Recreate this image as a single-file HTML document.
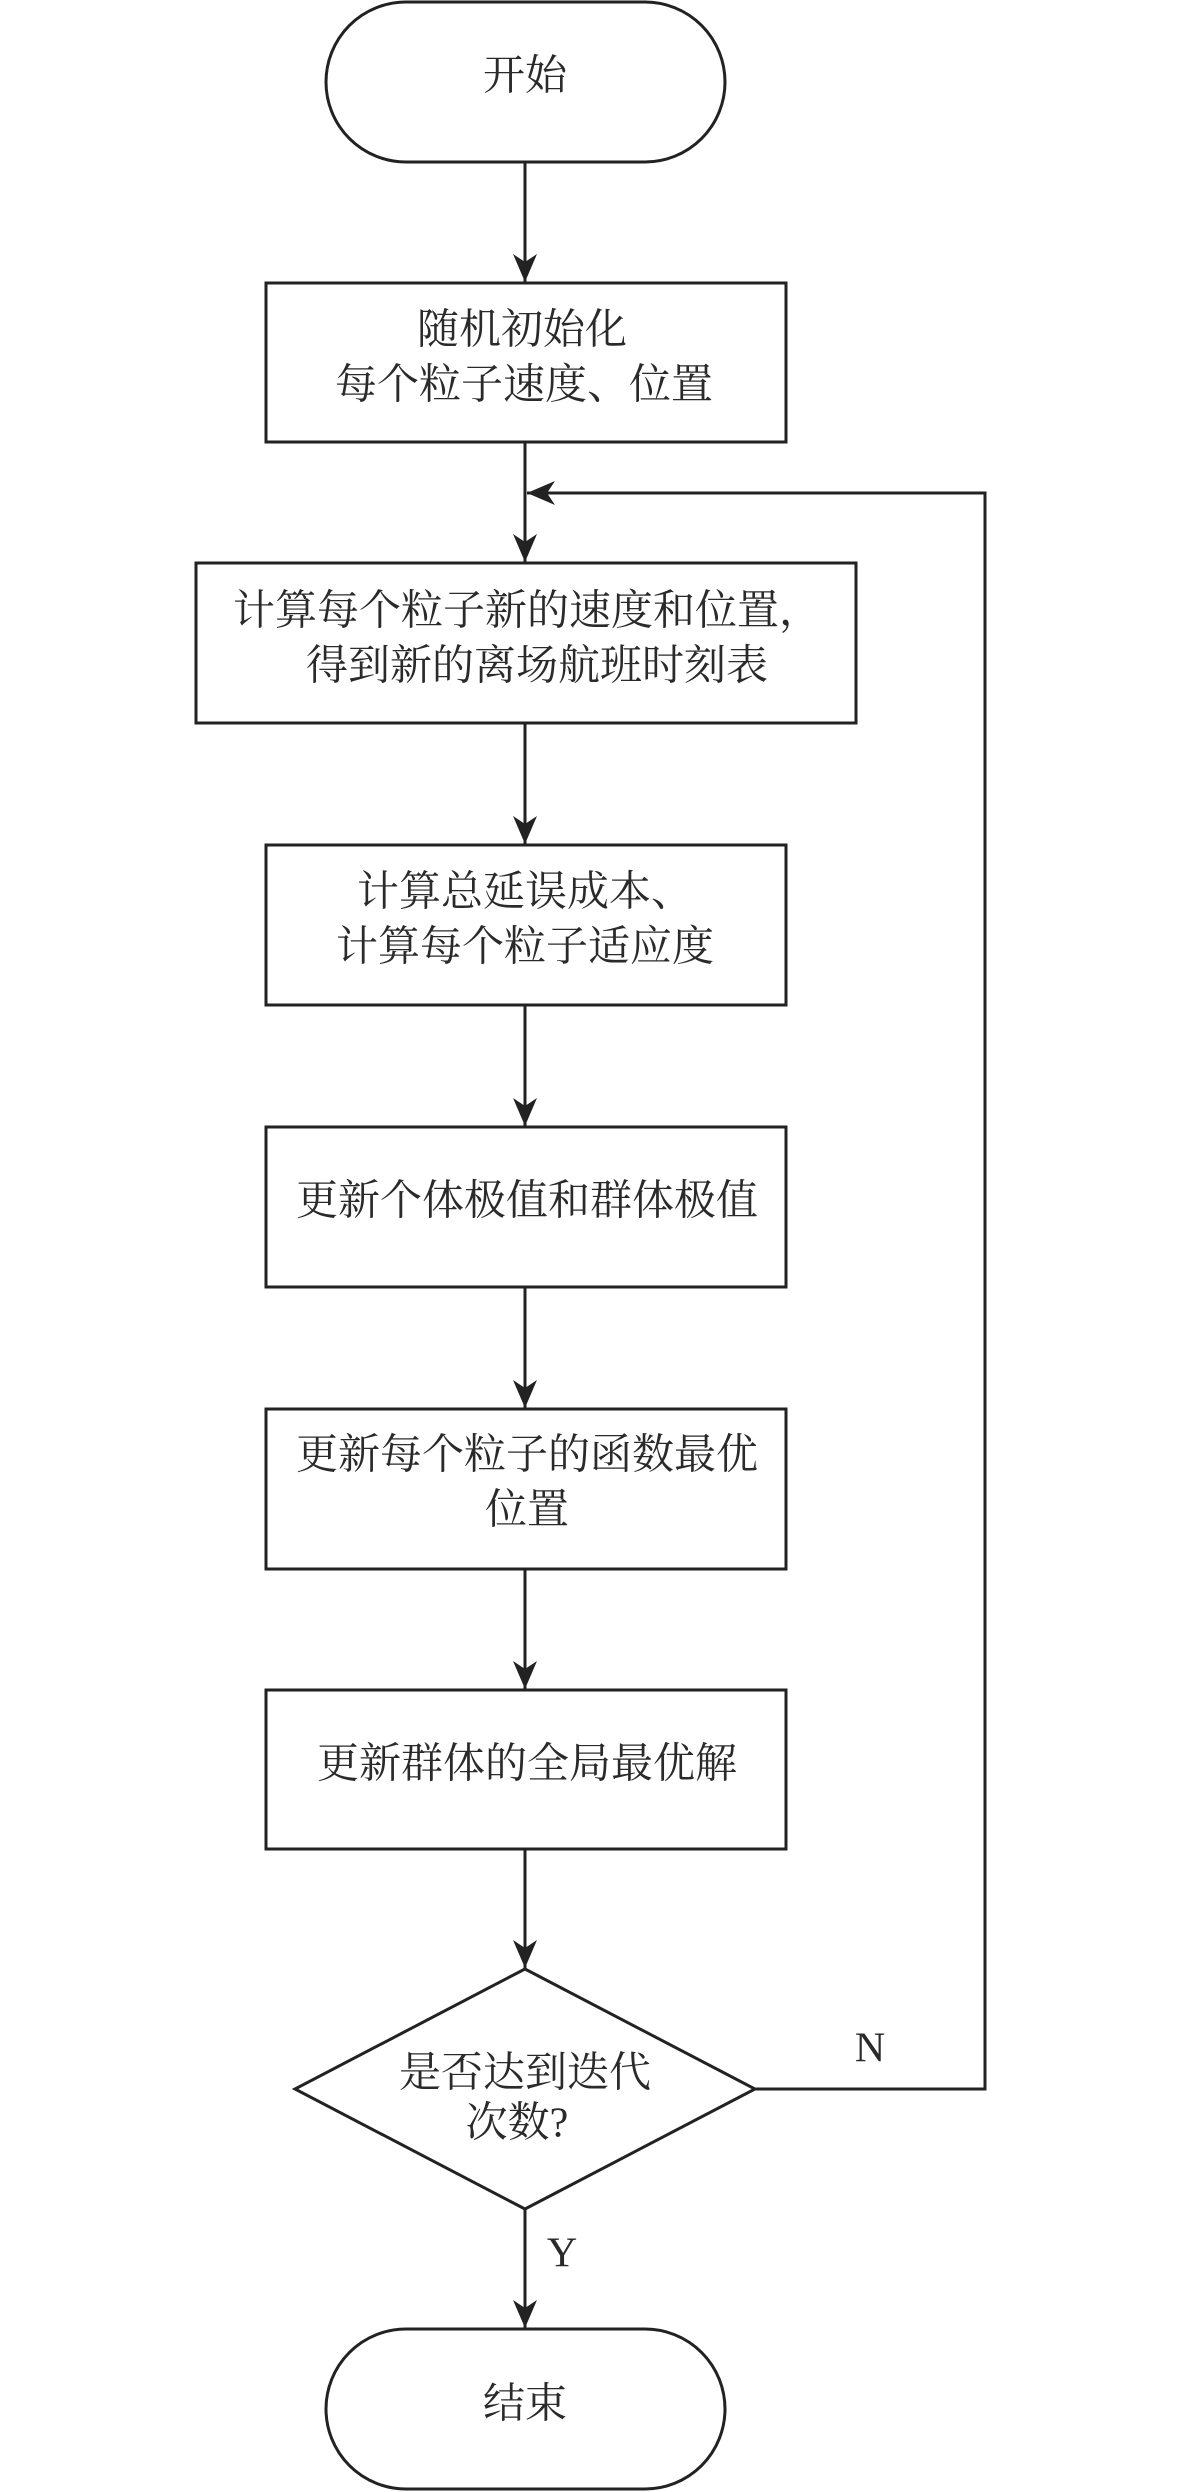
<!DOCTYPE html>
<html><head><meta charset="utf-8"><style>
html,body{margin:0;padding:0;background:#fff;}
svg{display:block;}
text{font-family:"Liberation Serif","Noto Serif CJK SC",serif;font-size:42px;fill:#2a2a2a;text-anchor:middle;dominant-baseline:middle;}
</style></head><body>
<svg width="1181" height="2492" viewBox="0 0 1181 2492" xmlns="http://www.w3.org/2000/svg">
<defs>
<marker id="a" markerWidth="30" markerHeight="24" refX="28" refY="12" orient="auto" markerUnits="userSpaceOnUse">
<path d="M0,0 L28,12 L0,24 L8,12 Z" fill="#222"/>
</marker>
</defs>
<g stroke="#222" stroke-width="3" fill="none">
<rect x="326" y="2" width="399" height="160" rx="80" ry="80"/>
<rect x="266" y="283" width="520" height="159"/>
<rect x="196" y="563" width="660" height="160"/>
<rect x="266" y="845" width="520" height="160"/>
<rect x="266" y="1127" width="520" height="160"/>
<rect x="266" y="1409" width="520" height="160"/>
<rect x="266" y="1690" width="520" height="159"/>
<polygon points="525,1969 755,2089 525,2209 295,2089"/>
<rect x="326" y="2329" width="399" height="160" rx="80" ry="80"/>
<line x1="525" y1="162" x2="525" y2="282" marker-end="url(#a)"/>
<line x1="525" y1="442" x2="525" y2="562" marker-end="url(#a)"/>
<line x1="525" y1="723" x2="525" y2="844" marker-end="url(#a)"/>
<line x1="525" y1="1005" x2="525" y2="1126" marker-end="url(#a)"/>
<line x1="525" y1="1287" x2="525" y2="1408" marker-end="url(#a)"/>
<line x1="525" y1="1569" x2="525" y2="1689" marker-end="url(#a)"/>
<line x1="525" y1="1849" x2="525" y2="1968" marker-end="url(#a)"/>
<line x1="525" y1="2209" x2="525" y2="2328" marker-end="url(#a)"/>
<polyline points="755,2089 985,2089 985,493 527,493" marker-end="url(#a)"/>
</g>
<text x="525" y="80">开始</text>
<text x="522" y="334">随机初始化</text>
<text x="524" y="389">每个粒子速度、位置</text>
<text x="527" y="615">计算每个粒子新的速度和位置，</text>
<text x="537" y="670">得到新的离场航班时刻表</text>
<text x="525" y="896">计算总延误成本、</text>
<text x="525" y="951">计算每个粒子适应度</text>
<text x="527" y="1205">更新个体极值和群体极值</text>
<text x="527" y="1459">更新每个粒子的函数最优</text>
<text x="527" y="1514">位置</text>
<text x="527" y="1768">更新群体的全局最优解</text>
<text x="525" y="2077">是否达到迭代</text>
<text x="517" y="2127">次数?</text>
<text x="870" y="2052">N</text>
<text x="562" y="2257">Y</text>
<text x="525" y="2408">结束</text>
</svg>
</body></html>
